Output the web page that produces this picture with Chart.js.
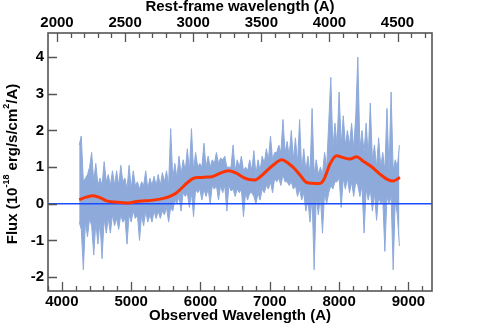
<!DOCTYPE html>
<html>
<head>
<meta charset="utf-8">
<script src="https://cdn.jsdelivr.net/npm/chart.js@4"></script>
<style>
  html, body { margin: 0; padding: 0; background: #fff; }
  #wrap { width: 480px; height: 324px; }
</style>
</head>
<body>
<div id="wrap"><canvas id="grafica" width="480" height="324"></canvas></div>
<script>
// ===== Datos =====
// espectro observado: primer punto y paso (A); bordes superior e inferior leidos del grafico
const specStart = 4250;
const specStep = 30;
const specUpper = [
  1.6, 1.85, 0.6, 0.7, 0.8, 1.0, 1.4, 0.6, 1.1, 0.5,
  0.7, 0.5, 1.15, 0.6, 0.8, 0.5, 0.9, 0.5, 0.9, 0.5,
  1.05, 0.6, 0.7, 0.4, 1.05, 0.4, 0.9, 0.5, 0.6, 0.4,
  0.6, 0.5, 0.9, 0.4, 0.7, 0.5, 0.75, 0.5, 0.8, 0.5,
  0.85, 0.6, 0.9, 0.5, 2.05, 0.7, 1.1, 0.7, 1.3, 0.8,
  1.2, 0.9, 1.5, 0.9, 2.05, 0.9, 1.4, 1.0, 1.1, 1.0,
  1.65, 1.0, 1.3, 1.0, 1.2, 1.1, 1.4, 1.1, 1.25, 1.2,
  1.3, 1.0, 1.0, 1.0, 1.6, 0.9, 1.2, 1.0, 1.3, 0.9,
  1.0, 0.9, 1.2, 0.9, 1.45, 0.8, 1.2, 0.9, 1.3, 1.1,
  1.5, 1.2, 1.85, 1.2, 1.4, 1.4, 1.6, 1.4, 2.3, 1.4,
  1.7, 1.3, 2.0, 1.2, 1.8, 1.1, 2.3, 0.9, 1.5, 0.9,
  1.3, 0.8, 2.6, 0.8, 1.2, 0.8, 1.0, 0.8, 1.4, 1.0,
  2.2, 3.45, 1.5, 2.2, 1.6, 3.05, 1.6, 2.4, 1.6, 2.0,
  1.6, 2.2, 1.5, 2.4, 4.0, 1.5, 2.0, 1.4, 2.2, 1.3,
  2.75, 1.2, 1.6, 1.0, 1.8, 1.0, 1.4, 0.9, 2.6, 0.9,
  3.05, 0.9, 1.2, 1.0, 1.6
];
const specLower = [
  -0.5, -0.7, -1.8, -0.5, -0.9, -0.4, -0.6, -1.4, -0.5, -1.1,
  -0.5, -1.5, -0.4, -0.8, -0.4, -0.8, -0.3, -0.6, -0.4, -0.7,
  -0.3, -0.5, -0.4, -1.1, -0.3, -0.5, -0.2, -0.4, -0.3, -1.0,
  -0.3, -0.6, -0.2, -0.5, -0.3, -0.5, -0.2, -0.4, -0.2, -0.4,
  -0.2, -0.3, -0.1, -0.5, -0.1, -0.2, 0.1, 0.0, 0.2, -0.2,
  0.3, 0.2, 0.3, -0.1, 0.3, -0.35, 0.4, 0.3, 0.4, 0.1,
  0.4, 0.2, 0.4, 0.0, 0.5, 0.4, 0.5, 0.1, 0.5, 0.3,
  0.5, -0.2, 0.5, 0.35, 0.4, 0.2, 0.4, 0.3, 0.4, -0.35,
  0.3, 0.1, 0.3, 0.3, 0.2, 0.0, 0.3, 0.1, 0.4, 0.3,
  0.5, 0.4, 0.6, 0.3, 0.7, 0.6, 0.7, 0.5, 0.8, 0.6,
  0.6, 0.5, 0.6, 0.4, 0.5, 0.2, 0.4, 0.1, 0.3, -0.2,
  0.1, -0.5, 0.2, -1.8, 0.2, -0.3, 0.2, -0.8, 0.3, 0.0,
  0.3, 0.5, 0.4, 0.6, 0.6, 0.7, -0.1, 0.7, 0.4, 0.7,
  0.3, 0.6, 0.2, 0.6, 0.5, 0.2, 0.5, -0.8, 0.4, 0.1,
  0.4, -0.2, 0.3, -0.45, 0.2, 0.0, 0.1, -1.3, 0.2, 0.0,
  0.2, -1.8, 0.1, -0.3, -1.15
];

// ajuste suavizado (linea roja)
const smoothWave = [4250, 4350, 4452, 4550, 4645, 4800, 4957, 5078, 5200, 5318,
  5450, 5558, 5655, 5740, 5800, 5895, 6000, 6088, 6160, 6280,
  6400, 6510, 6616, 6700, 6785, 6870, 6954, 7060, 7170, 7270,
  7362, 7450, 7531, 7620, 7699, 7750, 7795, 7867, 7964, 8060,
  8156, 8253, 8348, 8469, 8589, 8709, 8781, 8877];
const smoothFlux = [0.11, 0.18, 0.22, 0.17, 0.08, 0.04, 0.02, 0.06, 0.08, 0.10,
  0.14, 0.20, 0.30, 0.45, 0.56, 0.69, 0.72, 0.73, 0.74, 0.83,
  0.90, 0.84, 0.72, 0.66, 0.65, 0.75, 0.90, 1.07, 1.20, 1.10,
  0.95, 0.75, 0.58, 0.56, 0.55, 0.58, 0.72, 1.08, 1.31, 1.26,
  1.22, 1.28, 1.16, 1.01, 0.81, 0.65, 0.62, 0.72];

// linea de cero
const zeroWave = [3800, 9340];
const zeroFlux = [0, 0];

// ejes
const obsMin = 3800, obsMax = 9340;
const fluxMin = -2.38, fluxMax = 4.66;
const onePlusZ = 1.965;
const obsTicks = [4000, 5000, 6000, 7000, 8000, 9000];
const restTicks = [2000, 2500, 3000, 3500, 4000, 4500];
const fluxTicks = [-2, -1, 0, 1, 2, 3, 4];

// ===== Construir puntos =====
const upperPoints = specUpper.map((f, i) => ({ x: specStart + specStep * i, y: f }));
const lowerPoints = specLower.map((f, i) => ({ x: specStart + specStep * i, y: f }));
const smoothPoints = smoothWave.map((w, i) => ({ x: w, y: smoothFlux[i] }));
const zeroPoints = zeroWave.map((w, i) => ({ x: w, y: zeroFlux[i] }));

const fuente = { family: "'Liberation Sans', Arial, Helvetica, sans-serif", weight: 'bold', size: 15 };
const azulClaro = '#8eaadb';

function ticksFijos(valores) {
  return scale => { scale.ticks = valores.map(v => ({ value: v })); };
}
const sinComas = v => String(v);

// ===== Marco y marcas de los ejes =====
const marcoPlugin = {
  id: 'marco',
  afterDatasetsDraw(chart) {
    const { ctx, chartArea: a, scales } = chart;
    ctx.save();
    ctx.strokeStyle = '#555';
    ctx.lineWidth = 1.3;
    ctx.beginPath();
    // eje inferior: cada 200 A, mayor cada 1000
    for (let v = Math.ceil(obsMin / 200) * 200; v <= obsMax; v += 200) {
      const px = Math.round(scales.x.getPixelForValue(v)) + 0.5;
      const len = v % 1000 === 0 ? 9 : 5;
      ctx.moveTo(px, a.bottom);
      ctx.lineTo(px, a.bottom - len);
    }
    // eje superior: cada 100 A, mayor cada 500
    const rMin = obsMin / onePlusZ, rMax = obsMax / onePlusZ;
    for (let v = Math.ceil(rMin / 100) * 100; v <= rMax; v += 100) {
      const px = Math.round(scales.xTop.getPixelForValue(v)) + 0.5;
      const len = v % 500 === 0 ? 9 : 5;
      ctx.moveTo(px, a.top);
      ctx.lineTo(px, a.top + len);
    }
    // eje izquierdo
    fluxTicks.forEach(v => {
      const py = Math.round(scales.y.getPixelForValue(v)) + 0.5;
      ctx.moveTo(a.left, py);
      ctx.lineTo(a.left + 9, py);
    });
    ctx.stroke();
    ctx.lineWidth = 1.6;
    ctx.strokeRect(a.left, a.top, a.right - a.left, a.bottom - a.top);

    // titulo del eje Y con superindices
    const partes = [
      ['Flux (10', 15, 0],
      ['-18', 9, -6],
      [' erg/s/cm', 15, 0],
      ['2', 9, -6],
      ['/A)', 15, 0]
    ];
    ctx.fillStyle = '#000';
    ctx.textBaseline = 'middle';
    ctx.textAlign = 'left';
    let total = 0;
    partes.forEach(p => {
      ctx.font = `bold ${p[1]}px ${fuente.family}`;
      p.push(ctx.measureText(p[0]).width);
      total += p[3];
    });
    ctx.translate(13, (a.top + a.bottom) / 2 + 2);
    ctx.rotate(-Math.PI / 2);
    let xx = -total / 2;
    partes.forEach(p => {
      ctx.font = `bold ${p[1]}px ${fuente.family}`;
      ctx.fillText(p[0], xx, p[2]);
      xx += p[3];
    });
    ctx.restore();
  }
};

// ===== Grafica =====
new Chart(document.getElementById('grafica'), {
  type: 'line',
  data: {
    datasets: [
      {
        label: 'Ajuste',
        data: smoothPoints,
        borderColor: '#ff3300',
        borderWidth: 3,
        pointRadius: 0,
        cubicInterpolationMode: 'monotone',
        order: 0
      },
      {
        label: 'Cero',
        data: zeroPoints,
        borderColor: '#1a4dff',
        borderWidth: 1.5,
        pointRadius: 0,
        order: 1
      },
      {
        label: 'Espectro (max)',
        data: upperPoints,
        borderColor: azulClaro,
        borderWidth: 1,
        pointRadius: 0,
        fill: false,
        order: 2
      },
      {
        label: 'Espectro (min)',
        data: lowerPoints,
        borderColor: azulClaro,
        backgroundColor: azulClaro,
        borderWidth: 1,
        pointRadius: 0,
        fill: '-1',
        order: 3
      }
    ]
  },
  options: {
    responsive: false,
    animation: false,
    events: [],
    layout: { padding: { left: 0, right: 48, top: 0, bottom: 0 } },
    plugins: { legend: { display: false }, tooltip: { enabled: false } },
    scales: {
      x: {
        type: 'linear',
        position: 'bottom',
        min: obsMin,
        max: obsMax,
        afterBuildTicks: ticksFijos(obsTicks),
        afterFit: s => { s.height = 33; },
        grid: { display: false, drawTicks: false },
        border: { display: false },
        ticks: { font: fuente, color: '#000', padding: 2, maxRotation: 0, autoSkip: false, callback: sinComas },
        title: {
          display: true,
          text: 'Observed Wavelength (A)',
          font: fuente,
          color: '#000',
          padding: { top: 0, bottom: -1 }
        }
      },
      xTop: {
        type: 'linear',
        position: 'top',
        min: obsMin / onePlusZ,
        max: obsMax / onePlusZ,
        afterBuildTicks: ticksFijos(restTicks),
        afterFit: s => { s.height = 33; },
        grid: { display: false, drawTicks: false },
        border: { display: false },
        ticks: { font: fuente, color: '#000', padding: 1, maxRotation: 0, autoSkip: false, callback: sinComas },
        title: {
          display: true,
          text: 'Rest-frame wavelength (A)',
          font: fuente,
          color: '#000',
          padding: { top: -2, bottom: 0 }
        }
      },
      y: {
        type: 'linear',
        position: 'left',
        min: fluxMin,
        max: fluxMax,
        afterBuildTicks: ticksFijos(fluxTicks),
        afterFit: s => { s.width = 48; },
        grid: { display: false, drawTicks: false },
        border: { display: false },
        ticks: { font: fuente, color: '#000', padding: 4, callback: sinComas }
      }
    }
  },
  plugins: [marcoPlugin]
});
</script>
</body>
</html>
